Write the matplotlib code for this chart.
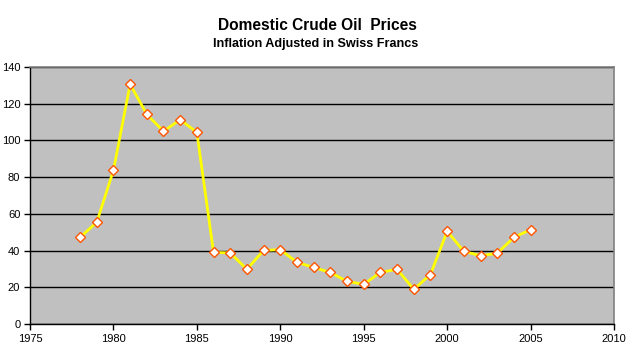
import matplotlib
matplotlib.use("Agg")
import matplotlib.pyplot as plt

years = list(range(1978, 2006))
prices = [47.2, 55.4, 83.7, 130.6, 114.2, 105.0, 111.3, 104.4, 39.0, 38.7,
          29.8, 40.1, 40.5, 33.6, 30.8, 28.1, 23.2, 21.6, 28.1, 29.8,
          18.9, 26.9, 50.5, 39.6, 37.2, 38.5, 47.2, 51.4]
x_ticks = [1975, 1980, 1985, 1990, 1995, 2000, 2005, 2010]
y_ticks = [0, 20, 40, 60, 80, 100, 120, 140]
title = "Domestic Crude Oil  Prices"
subtitle = "Inflation Adjusted in Swiss Francs"

plt.rcParams['font.family'] = ['Liberation Sans', 'DejaVu Sans']

fig = plt.figure(figsize=(6.35, 3.51), dpi=100)
ax = fig.add_axes([30/635, 1-324/351, (614-30)/635, (324-67)/351])
ax.set_facecolor('#C0C0C0')

ax.plot(years, prices, color='#FFFF00', lw=2.0, marker='D', markersize=5.5,
        markerfacecolor='white', markeredgecolor='#FF5500', markeredgewidth=1.0,
        zorder=3)

ax.set_xlim(1975, 2010)
ax.set_ylim(0, 140)
ax.set_xticks(x_ticks)
ax.set_yticks(y_ticks)
ax.grid(axis='y', color='black', lw=1.0)
ax.set_axisbelow(True)
ax.tick_params(axis='both', direction='out', length=4, width=1, labelsize=8,
               color='black', pad=3)
for side in ('left', 'bottom'):
    ax.spines[side].set_color('black')
    ax.spines[side].set_linewidth(1)
for side in ('top', 'right'):
    ax.spines[side].set_color('#808080')
    ax.spines[side].set_linewidth(1.2)

fig.text(317/635, 1-30/351, title, ha='center', va='baseline', fontsize=11.2,
         fontweight='bold')
fig.text(316/635, 1-47.5/351, subtitle, ha='center', va='baseline', fontsize=9.1,
         fontweight='bold')

fig.savefig('out.png', dpi=100)
